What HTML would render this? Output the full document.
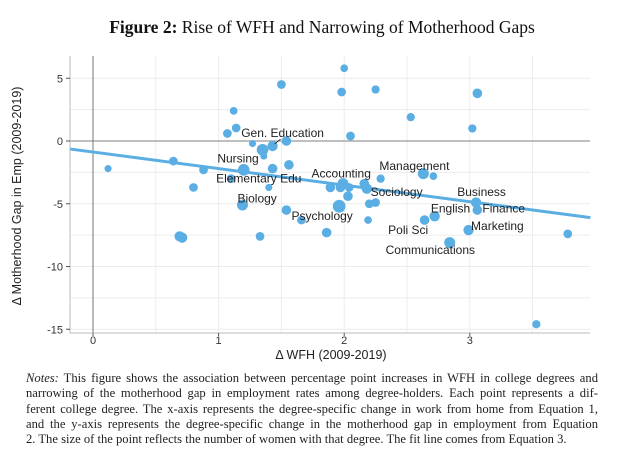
<!DOCTYPE html>
<html><head><meta charset="utf-8">
<style>
body{margin:0;background:#fff;width:643px;height:472px;overflow:hidden;}
svg{display:block;}
.notes{position:absolute;left:26px;top:371px;width:572px;font-family:"Liberation Serif",serif;font-size:12.6px;line-height:15.3px;color:#222;}
.notes span{display:block;text-align:justify;text-align-last:justify;white-space:nowrap;}
.notes span.last{text-align-last:left;}
</style></head>
<body>
<svg id="chart" width="643" height="472" style="position:absolute;left:0;top:0">
<text x="322" y="33" text-anchor="middle" font-family="Liberation Serif, serif" font-size="17.5" fill="#111"><tspan font-weight="bold">Figure 2:</tspan> Rise of WFH and Narrowing of Motherhood Gaps</text>
<g id="grid"></g>
<g id="axes"></g>
<g id="marks"></g>
<g id="labels"></g>
<text x="331" y="359" text-anchor="middle" font-family="Liberation Sans, sans-serif" font-size="12.5" fill="#222">Δ WFH (2009-2019)</text>
<text transform="translate(21,196) rotate(-90)" text-anchor="middle" font-family="Liberation Sans, sans-serif" font-size="12.5" fill="#222">Δ Motherhood Gap in Emp (2009-2019)</text>
</svg>
<div class="notes">
<span><i>Notes:</i> This figure shows the association between percentage point increases in WFH in college degrees and</span>
<span>narrowing of the motherhood gap in employment rates among degree-holders. Each point represents a dif-</span>
<span>ferent college degree. The x-axis represents the degree-specific change in work from home from Equation 1,</span>
<span>and the y-axis represents the degree-specific change in the motherhood gap in employment from Equation</span>
<span class="last">2. The size of the point reflects the number of women with that degree. The fit line comes from Equation 3.</span>
</div>
<script>
const xVals=[1.12,1.14,1.07,1.5,2.0,1.98,2.05,1.27,1.35,1.43,1.54,1.36,1.2,1.43,1.56,0.64,0.12,0.88,0.80,1.10,1.40,1.19,1.54,1.66,1.96,0.69,0.71,1.33,1.86,2.84,2.99,3.78,3.53,2.25,3.06,2.53,3.02,1.89,1.99,1.97,2.04,2.03,2.16,2.18,2.29,2.2,2.25,2.19,2.63,2.71,3.05,3.06,2.72,2.64];
const yVals=[2.4,1.04,0.6,4.5,5.8,3.9,0.4,-0.2,-0.7,-0.4,0,-1.2,-2.3,-2.2,-1.9,-1.6,-2.2,-2.3,-3.7,-3.0,-3.7,-5.1,-5.5,-6.3,-5.2,-7.6,-7.7,-7.6,-7.3,-8.1,-7.1,-7.4,-14.6,4.1,3.8,1.9,1.0,-3.7,-3.4,-3.7,-3.7,-4.4,-3.4,-3.8,-3.0,-5.0,-4.9,-6.3,-2.6,-2.8,-4.9,-5.5,-6.0,-6.3];
const sizes=[2,3,3,3,2,3,3,1.5,7,5,4,1.5,7,4,4,3,1.5,3,3,3,1.5,6,4,3,9,5,5,3,4,6,5,3,2.5,2.5,4,2.5,2.5,4,6,4,3,4,4,5,2.5,3,3,2,6,2,5,4,5,4];
const labelNames=["Gen. Education","Nursing","Elementary Edu","Biology","Psychology","Accounting","Management","Sociology","Business","English","Finance","Poli Sci","Marketing","Communications"];
const labelX=[1.18,0.99,0.98,1.15,1.58,1.74,2.28,2.21,2.9,2.69,3.1,2.35,3.01,2.33];
const labelY=[0.3,-1.7,-3.3,-4.9,-6.3,-2.9,-2.3,-4.4,-4.4,-5.7,-5.7,-7.4,-7.1,-9.0];
const yTicks=[5,0,-5,-10,-15];
const xTicks=[0,1,2,3];
const fitIntercept=-0.88, fitSlope=-1.32;

const X=v=>93+v*125.6, Y=v=>141-v*12.55;
const L=70,R=590,T=56,B=333;
const NS="http://www.w3.org/2000/svg";
function mk(tag,parent,attrs){const e=document.createElementNS(NS,tag);for(const k in attrs)e.setAttribute(k,attrs[k]);parent.appendChild(e);return e;}
const grid=document.getElementById('grid'),axes=document.getElementById('axes'),marks=document.getElementById('marks'),labels=document.getElementById('labels');
for(let v=-15;v<=5;v+=2.5){const g=mk('line',grid,{x1:L,x2:R,y1:Y(v),y2:Y(v),stroke:'#ececec','stroke-width':1});

}
for(let v=0.5;v<=3.5;v+=0.5){const g=mk('line',grid,{x1:X(v),x2:X(v),y1:T,y2:B,stroke:'#ececec','stroke-width':1});

}
const zl=mk('line',axes,{x1:L,x2:R,y1:Y(0),y2:Y(0),stroke:'#999','stroke-width':1.2});


const vl=mk('line',axes,{x1:X(0),x2:X(0),y1:T,y2:B,stroke:'#777','stroke-width':1});


const xa=mk('line',axes,{x1:L,x2:R,y1:B,y2:B,stroke:'#bbb','stroke-width':1});


const ya=mk('line',axes,{x1:L,x2:L,y1:T,y2:B,stroke:'#bbb','stroke-width':1});


yTicks.forEach(t=>{mk('line',axes,{x1:L-4,x2:L,y1:Y(t),y2:Y(t),stroke:'#555'});
const tx=mk('text',axes,{x:L-7,y:Y(t)+4,'text-anchor':'end','font-family':'Liberation Sans, sans-serif','font-size':11,fill:'#333'});tx.textContent=t;

});
xTicks.forEach(t=>{mk('line',axes,{x1:X(t),x2:X(t),y1:B,y2:B+3,stroke:'#555'});
const tx=mk('text',axes,{x:X(t),y:B+11,'text-anchor':'middle','font-family':'Liberation Sans, sans-serif','font-size':11,fill:'#333'});tx.textContent=t;

});
xVals.forEach((xv,i)=>{const c=mk('circle',marks,{cx:X(xv),cy:Y(yVals[i]),r:1.6+Math.sqrt(sizes[i])*1.6,fill:'#5aaee3'});

});
const x0=-0.18,x1=3.96;
const fl=mk('line',marks,{x1:X(x0),y1:Y(fitIntercept+fitSlope*x0),x2:X(x1),y2:Y(fitIntercept+fitSlope*x1),stroke:'#5aaee3','stroke-width':3});


const ld=mk('line',labels,{x1:X(1.43)+2,y1:Y(-0.4)-2,x2:X(1.43)+8,y2:Y(-0.4)-7,stroke:'#222','stroke-width':0.8});


labelNames.forEach((n,i)=>{const t=mk('text',labels,{x:X(labelX[i]),y:Y(labelY[i]),'font-family':'Liberation Sans, sans-serif','font-size':12,fill:'#222'});t.textContent=n;

});
</script>
</body></html>
